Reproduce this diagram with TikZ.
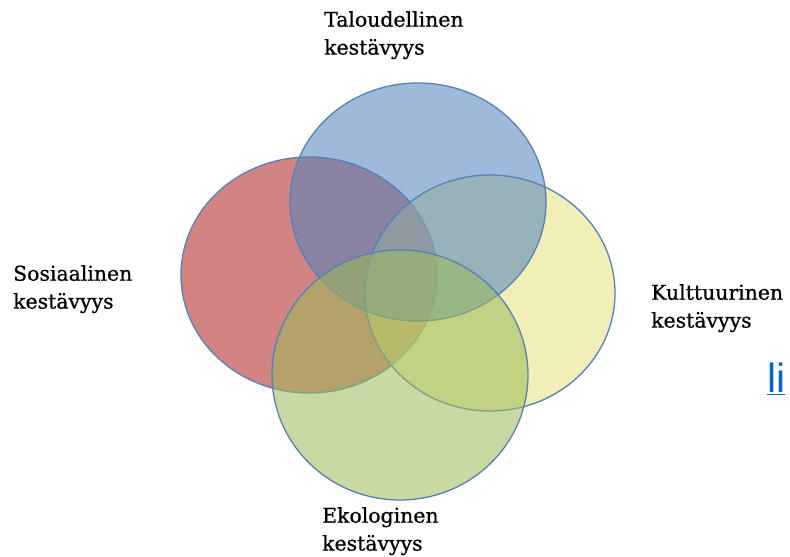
\documentclass[tikz,border=0pt]{standalone}
\usepackage{fontspec}
\setmainfont{DejaVu Serif}
\newfontfamily\lblfont{DejaVu Serif}[FakeBold=0.7]
\newfontfamily\linkfont{Liberation Sans}
\usetikzlibrary{positioning}

\definecolor{ringred}{RGB}{192,80,77}
\definecolor{ringblue}{RGB}{79,129,189}
\definecolor{ringyellow}{RGB}{230,225,125}
\definecolor{ringgreen}{RGB}{155,187,89}
\definecolor{ringline}{RGB}{84,130,180}
\definecolor{linkblue}{RGB}{6,102,204}

\begin{document}
\begin{tikzpicture}[
  x=1bp, y=-1bp,
  ring/.style = {draw=ringline, line width=1.3pt},
  lbl/.style = {align=left, anchor=north west, inner sep=0pt,
                font=\lblfont\fontsize{20.5}{28}\selectfont}
]
\useasboundingbox (0,0) rectangle (790,557);

% the four circles
\fill[white] (0,0) rectangle (790,557);
\draw[ring, fill=ringred, fill opacity=0.7] (309,275) ellipse [x radius=128, y radius=118];
\draw[ring, fill=ringyellow, fill opacity=0.55] (490,293) ellipse [x radius=125, y radius=118];
\draw[ring, fill=ringblue, fill opacity=0.55] (418,202) ellipse [x radius=128, y radius=119];
\draw[ring, fill=ringgreen, fill opacity=0.55] (400,375) ellipse [x radius=128, y radius=125];

% labels
\node[lbl] (talous) at (324,11) {Taloudellinen\\kestävyys};
\node[lbl] (sosiaali) at (13,265) {Sosiaalinen\\kestävyys};
\node[lbl] (kulttuuri) at (651,284) {Kulttuurinen\\kestävyys};
\node[lbl] (ekologia) at (322,507) {Ekologinen\\kestävyys};

\node[anchor=north west, inner sep=0pt, text=linkblue,
      font=\linkfont\fontsize{41}{44}\selectfont] (linkki) at (767,363) {\underline{li}};

\end{tikzpicture}
\end{document}
